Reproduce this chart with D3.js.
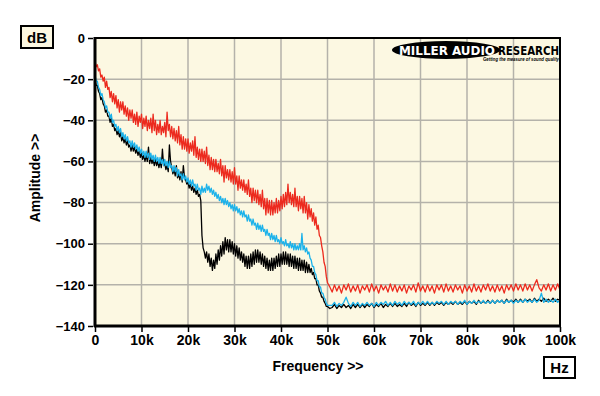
<!DOCTYPE html>
<html>
<head>
<meta charset="utf-8">
<script src="https://cdn.jsdelivr.net/npm/d3@7"></script>
<style>
  body { margin: 0; background: #fff; }
  svg { display: block; font-family: "Liberation Sans", Arial, sans-serif; }
</style>
</head>
<body>
<div id="chart"></div>
<script>
// Frequency grid in kHz: 0.25k steps below 50k, 0.5k steps above
const freqs = d3.range(0, 50, 0.25).concat(d3.range(50, 100.25, 0.5));

const xTicks = [0, 10, 20, 30, 40, 50, 60, 70, 80, 90, 100];
const xTickLabels = ["0", "10k", "20k", "30k", "40k", "50k", "60k", "70k", "80k", "90k", "100k"];
const yTicks = [0, -20, -40, -60, -80, -100, -120, -140];

// dB values, one group of four per kHz below 50k
const redTrace = [
  -11,-14,-13,-16, -15,-19,-18,-21, -19,-24,-21,-25, -24,-29,-26,-31, -27,-32,-28,-34,
  -30,-36,-31,-35, -31,-37,-33,-38, -34,-40,-35,-39, -35,-41,-37,-42, -36,-43,-38,-41,
  -37,-44,-39,-43, -38,-45,-40,-44, -39,-46,-37,-45, -40,-47,-42,-46, -40,-47,-43,-46,
  -41,-48,-36,-45, -42,-48,-43,-49, -44,-50,-45,-51, -43,-52,-47,-54, -48,-54,-49,-55,
  -49,-56,-51,-55, -50,-57,-48,-58, -53,-59,-54,-60, -54,-60,-55,-61, -53,-62,-57,-64,
  -58,-64,-59,-65, -59,-65,-61,-66, -59,-67,-62,-70, -62,-68,-64,-69, -64,-70,-65,-71,
  -63,-71,-67,-74, -67,-73,-69,-74, -69,-75,-71,-76, -69,-77,-73,-80, -73,-79,-74,-80,
  -74,-81,-76,-82, -74,-83,-78,-86, -78,-85,-79,-86, -79,-86,-80,-85, -78,-85,-79,-84,
  -77,-83,-76,-82, -75,-81,-71,-80, -75,-81,-76,-82, -73,-82,-77,-84, -77,-83,-78,-85,
  -77,-85,-80,-88, -81,-87,-83,-89, -85,-91,-87,-93, -91,-96,-97,-101, -104,-109,-111,-116,
  -119,-121,
  -123.5,-120,-123,-120.5,-124,-120,-122.5,-119.5,-123.5,-120.5,
  -123,-120,-124,-120.5,-122.5,-120,-123.5,-119.5,-123,-120.5,
  -124,-120,-122.5,-120.5,-123.5,-119.5,-123,-120,-123.5,-120.5,
  -123,-120,-124,-120.5,-122.5,-120,-123.5,-119,-123,-120.5,
  -123.5,-120,-123,-120.5,-124,-120,-122.5,-120,-123.5,-119.5,
  -123,-120.5,-123.5,-120,-122.5,-120.5,-124,-120,-123,-120.5,
  -123.5,-119.5,-123,-120.5,-123.5,-120,-122.5,-119.5,-123,-120.5,
  -123.5,-120,-123,-120.5,-124,-120,-122.5,-120,-123,-119.5,
  -122.5,-120,-123,-119.5,-122.5,-120,-123,-120,-117.5,-121.5,
  -123,-120,-122.5,-119.5,-123,-120,-122.5,-119.5,-122.5
];

const blueTrace = [
  -18,-21,-21,-24, -25,-28,-27,-30, -31,-34,-33,-36, -36,-39,-37,-41, -40,-43,-42,-45,
  -43,-46,-44,-48, -46,-49,-47,-50, -48,-51,-50,-53, -50,-53,-51,-54, -52,-55,-53,-56,
  -54,-57,-55,-58, -55,-58,-56,-59, -56,-59,-57,-60, -57,-60,-58,-61, -58,-61,-59,-62,
  -59,-62,-60,-63, -60,-63,-62,-65, -62,-65,-63,-67, -64,-67,-66,-69, -66,-69,-67,-70,
  -68,-71,-69,-72, -69,-72,-71,-74, -71,-74,-73,-76, -72,-75,-73,-75, -71,-74,-72,-75,
  -73,-76,-74,-77, -75,-78,-76,-79, -77,-80,-78,-81, -78,-81,-79,-82, -80,-83,-81,-84,
  -81,-84,-82,-85, -83,-86,-84,-87, -84,-87,-86,-89, -86,-89,-88,-91, -88,-91,-90,-93,
  -90,-93,-91,-94, -91,-94,-93,-96, -93,-96,-95,-98, -95,-98,-96,-99, -96,-99,-98,-100,
  -97,-100,-99,-101, -98,-101,-100,-102, -99,-102,-100,-103, -100,-103,-101,-103, -100,-103,-95,-103,
  -101,-104,-102,-105, -104,-107,-108,-111, -111,-114,-115,-118, -118,-121,-121,-124, -124,-126,-127,-129,
  -130,-130,
  -130,-128.5,-130.5,-129,-130,-128.5,-126,-129,-130.5,-128.5,
  -130,-128.5,-130.5,-129,-130,-128.5,-130,-129,-130.5,-128.5,
  -130,-128.5,-129.5,-128,-130,-128.5,-130,-128,-129.5,-128.5,
  -130,-128,-129.5,-128.5,-129.5,-128,-130,-128.5,-129.5,-128,
  -129.5,-128,-129.5,-128.5,-129.5,-128,-129,-128,-129.5,-128,
  -129.5,-128,-129,-128,-129.5,-128,-129,-127.5,-129.5,-128,
  -129,-127.5,-129,-128,-129,-127.5,-129,-128,-129,-127.5,
  -129,-127.5,-128.5,-127.5,-129,-127.5,-128.5,-127.5,-129,-127.5,
  -128.5,-127.5,-128.5,-127,-128.5,-127.5,-128.5,-127,-128.5,-127.5,
  -124,-128.5,-127,-128.5,-127.5,-128.5,-127,-128.5,-127.5
];

const blackTrace = [
  -20,-23,-23,-26, -27,-30,-29,-32, -33,-36,-35,-38, -38,-41,-39,-43, -42,-45,-44,-47,
  -45,-48,-46,-50, -48,-51,-49,-52, -50,-53,-52,-55, -52,-55,-53,-56, -54,-57,-55,-58,
  -56,-59,-57,-60, -57,-60,-53,-61, -58,-61,-59,-62, -59,-62,-60,-63, -60,-63,-54,-62,
  -61,-64,-62,-65, -52,-60,-63,-66, -64,-67,-62,-68, -66,-69,-65,-70, -62,-68,-69,-71,
  -70,-73,-71,-74, -72,-75,-73,-76, -74,-77,-76,-79, -96,-102,-104,-107, -104,-109,-105,-111,
  -107,-113,-108,-112, -105,-110,-103,-108, -101,-106,-99,-105, -97,-103,-98,-104, -98,-104,-99,-105,
  -100,-106,-101,-107, -102,-108,-104,-109, -105,-111,-106,-112, -106,-112,-105,-111, -104,-110,-103,-109,
  -103,-109,-104,-110, -105,-111,-106,-112, -107,-113,-108,-113, -107,-113,-107,-112, -106,-111,-105,-111,
  -105,-110,-104,-110, -104,-110,-105,-111, -105,-111,-106,-112, -106,-112,-107,-113, -107,-113,-108,-113,
  -108,-114,-109,-114, -110,-114,-112,-115, -114,-117,-117,-120, -120,-123,-124,-126, -126,-128,-129,-130.5,
  -130.5,-131.5,
  -131,-129.5,-131.5,-130,-131,-129.5,-131,-130,-131.5,-129.5,
  -131,-129.5,-131,-129.5,-131,-129.5,-130.5,-129,-131,-129.5,
  -130.5,-129,-131,-129.5,-130.5,-129,-130.5,-129,-130.5,-129.5,
  -130.5,-129,-130.5,-128.5,-130,-129,-130.5,-128.5,-130,-129,
  -130,-128.5,-130,-128.5,-130,-128.5,-129.5,-128.5,-130,-128.5,
  -129.5,-128.5,-129.5,-128,-129.5,-128.5,-129.5,-128,-129.5,-128,
  -129,-128,-129.5,-127.5,-129,-128,-129,-127.5,-129,-127.5,
  -129,-127.5,-128.5,-127.5,-129,-127,-128.5,-127.5,-128.5,-127,
  -128.5,-127,-128.5,-127,-128,-127,-128.5,-126.5,-128,-127,
  -128,-126.5,-128,-127,-128,-126.5,-128,-127,-127.5
];

const W = 600, H = 396;
const plot = {left: 95, right: 560, top: 38, bottom: 326};

const svg = d3.select("#chart").append("svg")
    .attr("width", W)
    .attr("height", H);

const x = d3.scaleLinear().domain([0, 100]).range([plot.left, plot.right]);
const y = d3.scaleLinear().domain([-140, 0]).range([plot.bottom, plot.top]);

// plot background
svg.append("rect")
    .attr("x", plot.left).attr("y", plot.top)
    .attr("width", plot.right - plot.left).attr("height", plot.bottom - plot.top)
    .attr("fill", "#fcf8e2");

// grid
svg.append("g").selectAll("line")
    .data(xTicks.slice(1, -1))
    .join("line")
    .attr("x1", d => x(d)).attr("x2", d => x(d))
    .attr("y1", plot.top).attr("y2", plot.bottom)
    .attr("stroke", "#b4b2aa").attr("stroke-width", 1.5);
svg.append("g").selectAll("line")
    .data(yTicks.slice(1, -1))
    .join("line")
    .attr("x1", plot.left).attr("x2", plot.right)
    .attr("y1", d => y(d)).attr("y2", d => y(d))
    .attr("stroke", "#b4b2aa").attr("stroke-width", 1.5);

// logo
const logo = svg.append("g");
logo.append("ellipse")
    .attr("cx", 446).attr("cy", 50).attr("rx", 54).attr("ry", 9)
    .attr("fill", "#000");
logo.append("text")
    .attr("x", 447).attr("y", 54.5)
    .attr("text-anchor", "middle")
    .attr("fill", "#fff")
    .style("font-family", "DejaVu Sans, sans-serif")
    .style("font-size", "12px").style("font-weight", "bold")
    .attr("textLength", 96).attr("lengthAdjust", "spacingAndGlyphs")
    .text("MILLER AUDIO");
logo.append("text")
    .attr("x", 498).attr("y", 54.5)
    .attr("fill", "#000")
    .style("font-family", "DejaVu Sans, sans-serif")
    .style("font-size", "12px").style("font-weight", "bold")
    .attr("textLength", 61).attr("lengthAdjust", "spacingAndGlyphs")
    .text("RESEARCH");
logo.append("text")
    .attr("x", 559).attr("y", 61)
    .attr("text-anchor", "end")
    .attr("fill", "#000")
    .style("font-size", "5px").style("font-weight", "bold").style("font-style", "italic")
    .attr("textLength", 76).attr("lengthAdjust", "spacingAndGlyphs")
    .text("Getting the measure of sound quality");

// traces
const line = d3.line()
    .x((d, i) => x(freqs[i]))
    .y(d => y(d));

const traces = [
    {data: blackTrace, color: "#000000"},
    {data: blueTrace, color: "#1cb2ea"},
    {data: redTrace, color: "#ec2a1e"}
];

svg.append("g").selectAll("path")
    .data(traces)
    .join("path")
    .attr("d", d => line(d.data))
    .attr("fill", "none")
    .attr("stroke", d => d.color)
    .attr("stroke-width", 1.3)
    .attr("stroke-linejoin", "round");

// frame
svg.append("rect")
    .attr("x", plot.left).attr("y", plot.top)
    .attr("width", plot.right - plot.left).attr("height", plot.bottom - plot.top)
    .attr("fill", "none").attr("stroke", "#000").attr("stroke-width", 2);
svg.append("line")
    .attr("x1", plot.left).attr("x2", plot.left)
    .attr("y1", plot.top - 1).attr("y2", plot.bottom + 1)
    .attr("stroke", "#000").attr("stroke-width", 3);
svg.append("line")
    .attr("x1", plot.left - 1).attr("x2", plot.right + 1)
    .attr("y1", plot.bottom).attr("y2", plot.bottom)
    .attr("stroke", "#000").attr("stroke-width", 3);

// axes
const yAxis = d3.axisLeft(y).tickValues(yTicks).tickSize(5).tickPadding(3);
const gy = svg.append("g")
    .attr("transform", `translate(${plot.left - 2},0)`)
    .call(yAxis);
gy.select(".domain").remove();
gy.selectAll("line").attr("stroke", "#000").attr("stroke-width", 1.5);
gy.selectAll("text")
    .style("font-size", "13px").style("font-weight", "bold")
    .attr("fill", "#000")
    .attr("font-family", "Liberation Sans, Arial, sans-serif");

const xAxis = d3.axisBottom(x).tickValues(xTicks)
    .tickFormat((d, i) => xTickLabels[i]).tickSize(5).tickPadding(3);
const gx = svg.append("g")
    .attr("transform", `translate(0,${plot.bottom + 1})`)
    .call(xAxis);
gx.select(".domain").remove();
gx.selectAll("line").attr("stroke", "#000").attr("stroke-width", 1.5);
gx.selectAll("text")
    .style("font-size", "14px").style("font-weight", "bold")
    .attr("fill", "#000")
    .attr("font-family", "Liberation Sans, Arial, sans-serif");

// axis titles
svg.append("text")
    .attr("x", 318).attr("y", 371)
    .attr("text-anchor", "middle")
    .style("font-size", "14px").style("font-weight", "bold")
    .text("Frequency >>");
svg.append("text")
    .attr("transform", "translate(40,178) rotate(-90)")
    .attr("text-anchor", "middle")
    .style("font-size", "14px").style("font-weight", "bold")
    .text("Amplitude >>");

// unit boxes
svg.append("rect")
    .attr("x", 21).attr("y", 26).attr("width", 32).attr("height", 22)
    .attr("fill", "#fcf8e2").attr("stroke", "#000").attr("stroke-width", 2);
svg.append("text")
    .attr("x", 37).attr("y", 43)
    .attr("text-anchor", "middle")
    .style("font-size", "15px").style("font-weight", "bold")
    .text("dB");
svg.append("rect")
    .attr("x", 544).attr("y", 357).attr("width", 31).attr("height", 21)
    .attr("fill", "#fff").attr("stroke", "#000").attr("stroke-width", 2);
svg.append("text")
    .attr("x", 559.5).attr("y", 373)
    .attr("text-anchor", "middle")
    .style("font-size", "15px").style("font-weight", "bold")
    .text("Hz");
</script>
</body>
</html>
